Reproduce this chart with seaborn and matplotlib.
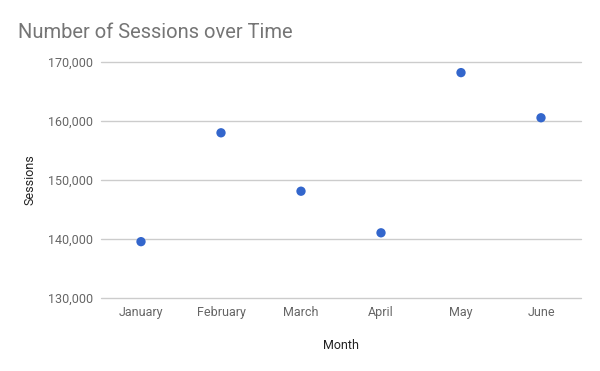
import matplotlib
matplotlib.use("Agg")
import matplotlib.pyplot as plt
import seaborn as sns
import pandas as pd
from matplotlib.ticker import FuncFormatter

months = ["January", "February", "March", "April", "May", "June"]
sessions = [139550, 158000, 148100, 141050, 168200, 160550]

df = pd.DataFrame({"Month": months, "Sessions": sessions})

sns.set_theme(style="white")
plt.rcParams["font.family"] = ["Roboto", "DejaVu Sans"]

fig = plt.figure(figsize=(6, 3.71), dpi=100)
ax = fig.add_axes([101/600, 1-298/371, 480/600, 236/371])

sns.scatterplot(data=df, x="Month", y="Sessions", ax=ax, color="#3366cc",
                s=45, edgecolor="none", zorder=3)

ax.set_ylim(130000, 170000)
ax.set_yticks([130000, 140000, 150000, 160000, 170000])
ax.set_xlim(-0.5, 5.5)
ax.yaxis.set_major_formatter(FuncFormatter(lambda v, p: f"{int(v):,}"))
ax.grid(axis="y", color="#cccccc", linewidth=1)
for gl in ax.get_ygridlines():
    gl.set_clip_on(False)
ax.set_axisbelow(True)
for s in ax.spines.values():
    s.set_visible(False)
ax.tick_params(axis="y", length=0, labelsize=9, colors="#666666", pad=6)
ax.tick_params(axis="x", length=0, labelsize=9, colors="#666666", pad=6)
ax.set_xlabel("Month", fontsize=9, color="#222222", labelpad=14)
ax.set_ylabel("Sessions", fontsize=9, color="#222222", labelpad=8)

fig.text(18/600, 1-32/371, "Number of Sessions over Time", fontsize=14.5,
         color="#757575", va="center", ha="left")

fig.savefig("out.png", dpi=100, facecolor="white")
